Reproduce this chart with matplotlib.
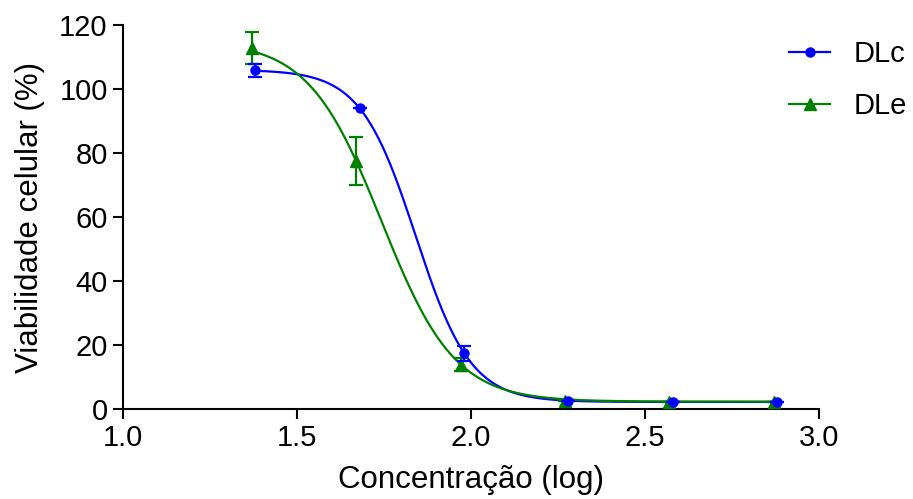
import numpy as np
import matplotlib
matplotlib.use("Agg")
import matplotlib.pyplot as plt

plt.rcParams['font.family'] = ['Liberation Sans', 'DejaVu Sans']

# Data
dlc_x = [1.38, 1.68, 1.98, 2.28, 2.58, 2.88]
dlc_y = [105.8, 94.0, 17.4, 2.5, 2.2, 2.2]
dlc_err = [2.0, 0.0, 2.3, 0.0, 0.0, 0.0]

dle_x = [1.37, 1.67, 1.97, 2.27, 2.57, 2.87]
dle_y = [112.8, 77.5, 13.8, 2.5, 2.3, 2.3]
dle_err = [5.1, 7.6, 2.0, 0.0, 0.0, 0.0]

# Fitted 4-parameter logistic curve parameters (top, bottom, logEC50, hill)
dlc_fit = [106.0, 2.2, 1.841, 5.48]
dle_fit = [115.0, 2.3, 1.743, 4.13]

xticks = [1.0, 1.5, 2.0, 2.5, 3.0]
yticks = [0, 20, 40, 60, 80, 100, 120]


def logistic(x, p):
    top, bottom, x0, h = p
    return bottom + (top - bottom) / (1 + 10 ** ((x - x0) * h))


fig = plt.figure(figsize=(9.13, 4.99), dpi=100)
ax = fig.add_axes([123 / 913, 1 - 409 / 499, (819 - 123) / 913, (409 - 25) / 499])

blue = '#0000ff'
green = '#008000'

xs = np.linspace(min(dlc_x), max(dlc_x), 400)
ax.plot(xs, logistic(xs, dlc_fit), color=blue, lw=1.6, zorder=3)
xs2 = np.linspace(min(dle_x), max(dle_x), 400)
ax.plot(xs2, logistic(xs2, dle_fit), color=green, lw=1.6, zorder=3)

ax.errorbar(dle_x, dle_y, yerr=dle_err, fmt='^', color=green, ms=9,
            capsize=5, elinewidth=1.6, capthick=1.6, zorder=4)
ax.errorbar(dlc_x, dlc_y, yerr=dlc_err, fmt='o', color=blue, ms=6.5,
            capsize=5, elinewidth=1.6, capthick=1.6, zorder=5)

h1, = ax.plot([], [], color=blue, marker='o', ms=6.5, lw=1.6)
h2, = ax.plot([], [], color=green, marker='^', ms=9, lw=1.6)
fig.legend([h1, h2], ['DLc', 'DLe'], loc='upper left',
           bbox_to_anchor=(769 / 913, 1 - 20 / 499), frameon=False,
           fontsize=21, handlelength=1.4, labelspacing=0.8,
           handletextpad=0.8, borderpad=0.2)

ax.set_xlim(1.0, 3.0)
ax.set_ylim(0, 120)
ax.set_xticks(xticks)
ax.set_yticks(yticks)
ax.set_xticklabels([f'{t:.1f}' for t in xticks])
for s in ['top', 'right']:
    ax.spines[s].set_visible(False)
for s in ['left', 'bottom']:
    ax.spines[s].set_linewidth(1.5)
ax.tick_params(direction='out', length=7, width=1.5, labelsize=21, pad=4)
ax.set_xlabel('Concentração (log)', fontsize=22.5, labelpad=9)
ax.set_ylabel('Viabilidade celular (%)', fontsize=22.5, labelpad=10)

fig.savefig('out.png', dpi=100)
